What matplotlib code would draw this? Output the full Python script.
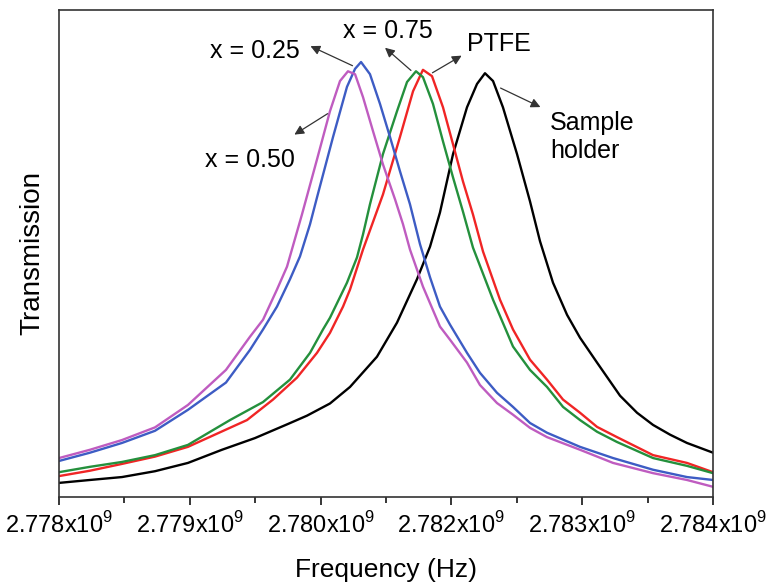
import matplotlib
matplotlib.use("Agg")
import matplotlib.pyplot as plt
import numpy as np

plt.rcParams['font.family'] = ['Liberation Sans', 'DejaVu Sans']
plt.rcParams['mathtext.fontset'] = 'custom'
plt.rcParams['mathtext.rm'] = 'Liberation Sans'

F0 = 2778.0  # MHz, left edge of the scan

# frequency offsets (MHz from 2778 MHz) and transmission (a.u.)
f_holder = [0, 0.284, 0.578, 0.881, 1.183, 1.495, 1.798, 2.101, 2.275, 2.486, 2.670, 2.917, 3.101,
            3.284, 3.404, 3.495, 3.615, 3.743, 3.835, 3.908, 3.982, 4.073, 4.202, 4.321,
            4.413, 4.532, 4.661, 4.780, 4.936, 5.147, 5.303, 5.450, 5.606, 5.761, 6.000]
t_holder = [0.029, 0.035, 0.041, 0.053, 0.070, 0.097, 0.121, 0.150, 0.167, 0.192, 0.226, 0.288, 0.358,
            0.447, 0.514, 0.584, 0.704, 0.800, 0.848, 0.870, 0.854, 0.800, 0.704, 0.607,
            0.525, 0.440, 0.374, 0.327, 0.276, 0.208, 0.173, 0.148, 0.128, 0.111, 0.091]

f_ptfe = [0, 0.284, 0.578, 0.881, 1.183, 1.725, 1.963, 2.183, 2.367, 2.486, 2.606, 2.670, 2.789,
          2.972, 3.128, 3.248, 3.339, 3.422, 3.523, 3.615, 3.706, 3.798, 3.890, 4.046,
          4.165, 4.321, 4.477, 4.624, 4.780, 4.936, 5.119, 5.450, 5.761, 6.000]
t_ptfe = [0.043, 0.054, 0.068, 0.083, 0.103, 0.158, 0.200, 0.245, 0.296, 0.337, 0.391, 0.426, 0.508,
          0.621, 0.739, 0.833, 0.877, 0.864, 0.800, 0.724, 0.648, 0.580, 0.504, 0.405,
          0.344, 0.282, 0.241, 0.200, 0.173, 0.144, 0.123, 0.086, 0.070, 0.051]

f_x075 = [0, 0.284, 0.578, 0.881, 1.183, 1.569, 1.872, 2.119, 2.303, 2.422, 2.486, 2.642, 2.734,
          2.789, 2.853, 2.972, 3.101, 3.193, 3.275, 3.339, 3.431, 3.523, 3.615, 3.706,
          3.798, 3.982, 4.165, 4.321, 4.477, 4.624, 4.780, 4.936, 5.119, 5.450, 5.761, 6.000]
t_x075 = [0.051, 0.062, 0.072, 0.086, 0.107, 0.158, 0.195, 0.241, 0.296, 0.344, 0.368, 0.440, 0.492,
          0.539, 0.601, 0.704, 0.792, 0.852, 0.874, 0.862, 0.807, 0.730, 0.656, 0.586,
          0.512, 0.405, 0.309, 0.261, 0.226, 0.185, 0.158, 0.134, 0.113, 0.080, 0.064, 0.049]

f_x025 = [0, 0.284, 0.578, 0.881, 1.183, 1.532, 1.752, 1.872, 2.000, 2.119, 2.211, 2.303, 2.367,
          2.514, 2.642, 2.716, 2.771, 2.853, 2.945, 3.037, 3.128, 3.220, 3.312, 3.404,
          3.495, 3.587, 3.743, 3.862, 4.018, 4.165, 4.321, 4.477, 4.780, 5.083, 5.450, 5.761, 6.000]
t_x025 = [0.074, 0.091, 0.111, 0.136, 0.179, 0.235, 0.302, 0.344, 0.391, 0.447, 0.494, 0.560, 0.615,
          0.739, 0.842, 0.879, 0.893, 0.868, 0.807, 0.739, 0.669, 0.601, 0.519, 0.451,
          0.391, 0.354, 0.296, 0.255, 0.214, 0.185, 0.152, 0.132, 0.103, 0.080, 0.056, 0.041, 0.035]

f_x050 = [0, 0.284, 0.578, 0.881, 1.183, 1.532, 1.752, 1.872, 2.000, 2.092, 2.229, 2.367, 2.486,
          2.578, 2.651, 2.716, 2.789, 2.881, 2.972, 3.083, 3.156, 3.220, 3.339, 3.495,
          3.587, 3.743, 3.862, 4.018, 4.165, 4.321, 4.477, 4.780, 5.083, 5.450, 5.761, 6.000]
t_x050 = [0.080, 0.097, 0.117, 0.143, 0.189, 0.261, 0.329, 0.364, 0.426, 0.473, 0.580, 0.693, 0.792,
          0.854, 0.874, 0.868, 0.821, 0.751, 0.683, 0.611, 0.560, 0.508, 0.432, 0.350,
          0.323, 0.276, 0.230, 0.193, 0.169, 0.142, 0.123, 0.097, 0.070, 0.049, 0.035, 0.021]

tick_labels = ['2.778', '2.779', '2.780', '2.782', '2.783', '2.784']


def hz(offsets):
    return (F0 + np.array(offsets)) * 1e6


fig = plt.figure(figsize=(7.68, 5.82), dpi=100)
ax = fig.add_axes([0.0768, 0.146, 0.8516, 0.837])

ax.plot(hz(f_holder), t_holder, color='black', lw=1.7)
ax.plot(hz(f_ptfe), t_ptfe, color='#f02525', lw=1.7)
ax.plot(hz(f_x075), t_x075, color='#24903c', lw=1.7)
ax.plot(hz(f_x025), t_x025, color='#3d5cc4', lw=1.7)
ax.plot(hz(f_x050), t_x050, color='#bf5cc0', lw=1.7)

ax.set_xlim(hz([0])[0], hz([6])[0])
ax.set_ylim(0, 1)

major = hz([0, 1.2, 2.4, 3.6, 4.8, 6.0])
ax.set_xticks(major)
ax.set_xticklabels([lab + r'x10$^{9}$' for lab in tick_labels], fontsize=17)
ax.set_xticks(hz([0.6, 1.8, 3.0, 4.2, 5.4]), minor=True)
ax.tick_params(axis='x', which='major', direction='out', length=6, width=1.1, pad=5)
ax.tick_params(axis='x', which='minor', direction='out', length=4, width=1.1)
ax.set_yticks([])
for sp in ax.spines.values():
    sp.set_linewidth(1.2)
    sp.set_color('#333333')

ax.set_xlabel('Frequency (Hz)', fontsize=19, labelpad=14)
ax.set_ylabel('Transmission', fontsize=20, labelpad=10)

arrow = dict(arrowstyle='-|>', color='#333333', lw=0.9, mutation_scale=14)


def label(text, tail, head, pos, ha='center'):
    ax.annotate('', xy=(hz([head[0]])[0], head[1]), xytext=(hz([tail[0]])[0], tail[1]),
                arrowprops=arrow)
    ax.text(hz([pos[0]])[0], pos[1], text, fontsize=18, ha=ha, va='center')


label('x = 0.25', (2.716, 0.883), (2.284, 0.928), (1.798, 0.916))
label('x = 0.75', (3.248, 0.872), (2.972, 0.926), (3.018, 0.957))
label('PTFE', (3.404, 0.868), (3.716, 0.909), (4.037, 0.930))
label('x = 0.50', (2.486, 0.790), (2.138, 0.741), (1.752, 0.691))
ax.annotate('', xy=(hz([4.440])[0], 0.798), xytext=(hz([4.028])[0], 0.842), arrowprops=arrow)
ax.text(hz([4.505])[0], 0.739, 'Sample\nholder', fontsize=18, ha='left', va='center',
        linespacing=1.25)

fig.savefig('out.png', dpi=100)
